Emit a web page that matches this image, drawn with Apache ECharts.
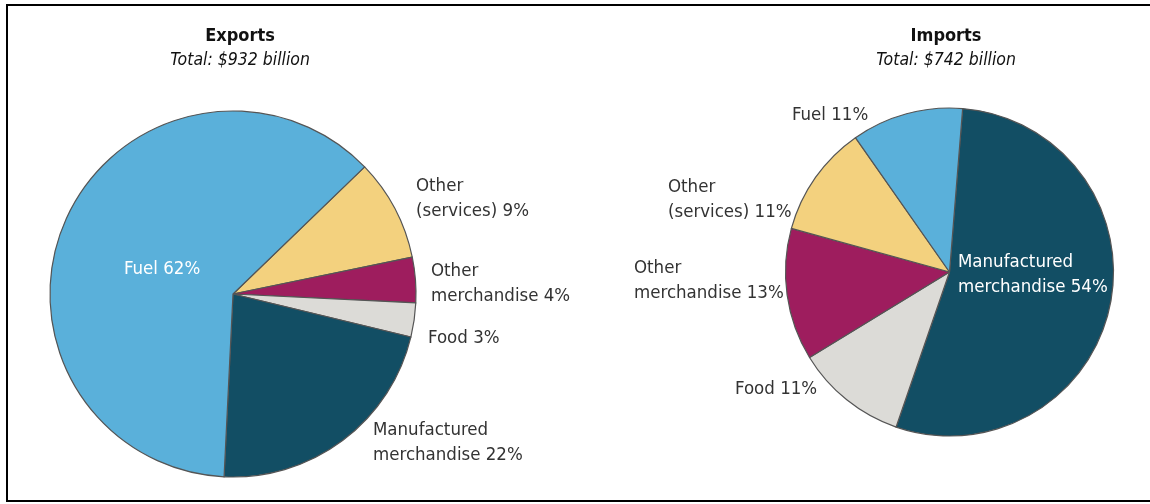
<!DOCTYPE html>
<html>
<head>
<meta charset="utf-8">
<script src="https://cdn.jsdelivr.net/npm/echarts@6/dist/echarts.min.js"></script>
<style>
html,body{margin:0;padding:0;background:#fff;}
#c{width:1150px;height:504px;}
</style>
</head>
<body>
<div id="c"></div>
<script>
// ---- data ----
var exportCategories = ['Other (services)', 'Other merchandise', 'Food', 'Manufactured merchandise', 'Fuel'];
var exportShares = [9, 4, 3, 22, 62];
var exportLabels = ['Other\n(services) 9%', 'Other\nmerchandise 4%', 'Food 3%', 'Manufactured\nmerchandise 22%', 'Fuel 62%'];

var importCategories = ['Manufactured merchandise', 'Food', 'Other merchandise', 'Other (services)', 'Fuel'];
var importShares = [54, 11, 13, 11, 11];
var importLabels = ['Manufactured\nmerchandise 54%', 'Food 11%', 'Other\nmerchandise 13%', 'Other\n(services) 11%', 'Fuel 11%'];

var titles = ['Exports', 'Imports'];
var subtitles = ['Total: $932 billion', 'Total: $742 billion'];

// ---- styles / layout ----
var FONT = '"Liberation Sans Narrow","DejaVu Sans Condensed","Arial Narrow",sans-serif';
var colorMap = {
  'Fuel': '#5AB0DA',
  'Other (services)': '#F3D17E',
  'Other merchandise': '#9E1D5E',
  'Food': '#DCDBD7',
  'Manufactured merchandise': '#124E64'
};
var whiteLabels = { 'exp:Fuel': true, 'imp:Manufactured merchandise': true };
// label anchor positions (left edge, vertical middle)
var exportLabelPos = [[416, 199], [431, 284], [428, 338], [373, 443], [124, 269]];
var importLabelPos = [[958, 275], [735, 389], [634, 281], [668, 200], [792, 115]];

function buildData(cats, vals, labels, prefix) {
  return cats.map(function (c, i) {
    var inside = !!whiteLabels[prefix + ':' + c];
    return {
      name: c,
      value: vals[i],
      itemStyle: { color: colorMap[c] },
      label: {
        formatter: labels[i],
        position: inside ? 'inside' : 'outside',
        color: inside ? '#ffffff' : '#333333'
      }
    };
  });
}

function makeSeries(cats, vals, labels, prefix, center, radius, startAngle, pos) {
  return {
    type: 'pie',
    center: center,
    radius: radius,
    startAngle: startAngle,
    clockwise: true,
    silent: true,
    animation: false,
    avoidLabelOverlap: false,
    itemStyle: { borderColor: '#555555', borderWidth: 1.2 },
    label: {
      show: true,
      position: 'outside',
      fontFamily: FONT,
      fontSize: 18.5,
      lineHeight: 25,
      align: 'left'
    },
    labelLine: { show: false },
    labelLayout: function (p) {
      var xy = pos[p.dataIndex];
      return { x: xy[0], y: xy[1], align: 'left', verticalAlign: 'middle', hideOverlap: false };
    },
    data: buildData(cats, vals, labels, prefix)
  };
}

var chart = echarts.init(document.getElementById('c'), null, { renderer: 'canvas' });
chart.setOption({
  backgroundColor: '#ffffff',
  title: [
    { text: titles[0], subtext: subtitles[0], left: 235, top: 22, textAlign: 'center', itemGap: 6,
      textStyle: { fontFamily: FONT, fontSize: 18, fontWeight: 'bold', color: '#111' },
      subtextStyle: { fontFamily: FONT, fontSize: 17.5, fontStyle: 'italic', color: '#111' } },
    { text: titles[1], subtext: subtitles[1], left: 941, top: 22, textAlign: 'center', itemGap: 6,
      textStyle: { fontFamily: FONT, fontSize: 18, fontWeight: 'bold', color: '#111' },
      subtextStyle: { fontFamily: FONT, fontSize: 17.5, fontStyle: 'italic', color: '#111' } }
  ],
  graphic: [{
    type: 'rect', shape: { x: 7, y: 5, width: 1170, height: 496 },
    style: { fill: 'none', stroke: '#000', lineWidth: 2 }, silent: true
  }],
  series: [
    makeSeries(exportCategories, exportShares, exportLabels, 'exp', [233, 294], 183, 44, exportLabelPos),
    makeSeries(importCategories, importShares, importLabels, 'imp', [949.5, 272], 164, 85.4, importLabelPos)
  ]
});
</script>
</body>
</html>
